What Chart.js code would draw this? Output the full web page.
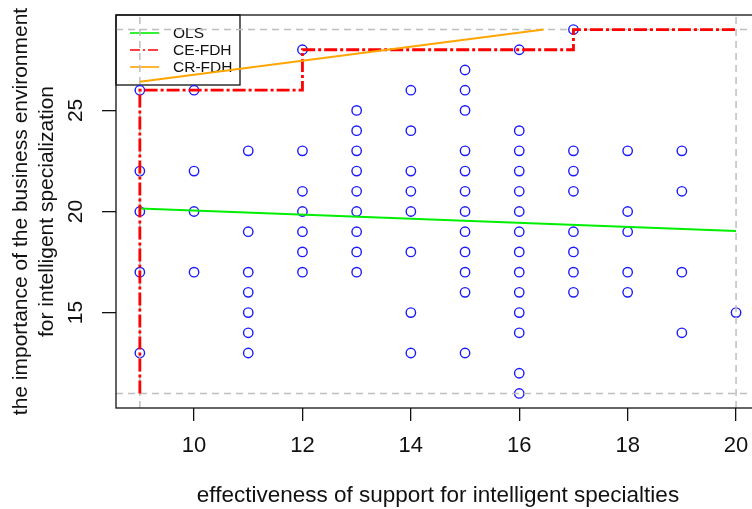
<!DOCTYPE html>
<html>
<head>
<meta charset="utf-8">
<script src="https://cdn.jsdelivr.net/npm/chart.js@4.4.1/dist/chart.umd.min.js"></script>
<style>
  html, body { margin: 0; padding: 0; background: #fff; overflow: hidden; }
  /* plot runs a little past the right edge of the window, like the reference */
  #nca-chart { display: block; width: 766px; height: 509px; }
</style>
</head>
<body>
<canvas id="nca-chart" width="766" height="509"></canvas>
<script>
// =============================================================================
// DATA
// =============================================================================

// support levels (x) and the observed environment scores (y) at each level
const supportLevels = [9, 10, 11, 12, 13, 14, 15, 16, 17, 18, 19, 20];
const envByLevel = [
  [26, 22, 20, 17, 13],
  [26, 22, 20, 17],
  [23, 19, 17, 16, 15, 14, 13],
  [28, 23, 21, 20, 19, 18, 17],
  [25, 24, 23, 22, 21, 20, 19, 18, 17],
  [26, 24, 22, 21, 20, 18, 15, 13],
  [27, 26, 25, 23, 22, 21, 20, 19, 18, 17, 16, 13],
  [28, 24, 23, 22, 21, 20, 19, 18, 17, 16, 15, 14, 12, 11],
  [29, 23, 22, 21, 19, 18, 17, 16],
  [23, 20, 19, 17, 16],
  [23, 21, 17, 14],
  [15]
];

// ceiling / regression lines
const olsX = [9, 20];
const olsY = [20.15, 19.03];
const ceX = [9, 9, 12, 12, 17, 17, 20];
const ceY = [11, 26, 26, 28, 28, 29, 29];
const crX = [9, 16.45];
const crY = [26.42, 29];

// scope limits (gray dashed)
const scopeX = [9, 20];
const scopeY = [11, 29];

const xTicks = [10, 12, 14, 16, 18, 20];
const yTicks = [15, 20, 25];
const xRange = [8.56, 20.44];
const yRange = [10.28, 29.72];

const legendLabels = ['OLS', 'CE-FDH', 'CR-FDH'];

// =============================================================================
// STYLE
// =============================================================================

const FONT = '"Liberation Sans", Arial, sans-serif';
const COLORS = { ols: '#00ee00', ce: '#ff0000', cr: '#ffa500', pts: '#1a1aff', scope: '#bebebe', ink: '#111' };

const toXY = (xs, ys) => xs.map((x, i) => ({ x: x, y: ys[i] }));

const points = [];
supportLevels.forEach((x, i) => envByLevel[i].forEach(y => points.push({ x: x, y: y })));

const scopeLines = [
  ...scopeX.map(x => [{ x: x, y: yRange[0] }, { x: x, y: yRange[1] }]),
  ...scopeY.map(y => [{ x: xRange[0], y: y }, { x: xRange[1], y: y }])
];

const legendStyles = [
  { color: COLORS.ols, width: 1.6, dash: [] },
  { color: COLORS.ce, width: 1.6, dash: [10, 3, 2, 3] },
  { color: COLORS.cr, width: 1.6, dash: [] }
];

// =============================================================================
// PLUGIN: legend box, frame, rotated y tick labels
// =============================================================================

const plotFrame = {
  id: 'plotFrame',
  beforeDatasetsDraw(chart) {
    const { ctx, chartArea: a } = chart;
    ctx.save();
    ctx.strokeStyle = COLORS.ink;
    ctx.lineWidth = 1.3;
    ctx.strokeRect(a.left, a.top, 124, 70);
    ctx.font = '15.5px ' + FONT;
    ctx.textBaseline = 'middle';
    ctx.fillStyle = COLORS.ink;
    legendLabels.forEach((label, i) => {
      const st = legendStyles[i];
      const y = a.top + 18 + i * 17;
      ctx.beginPath();
      ctx.strokeStyle = st.color;
      ctx.lineWidth = st.width;
      ctx.setLineDash(st.dash);
      ctx.moveTo(a.left + 14, y);
      ctx.lineTo(a.left + 43, y);
      ctx.stroke();
      ctx.setLineDash([]);
      ctx.fillText(label, a.left + 57, y + 1);
    });
    ctx.restore();
  },
  afterDraw(chart) {
    const { ctx, chartArea: a } = chart;
    const ys = chart.scales.y;
    ctx.save();
    ctx.strokeStyle = COLORS.ink;
    ctx.lineWidth = 1.3;
    ctx.strokeRect(a.left, a.top, a.right - a.left, a.bottom - a.top);
    ctx.font = '21px ' + FONT;
    ctx.fillStyle = COLORS.ink;
    ctx.textAlign = 'center';
    ctx.textBaseline = 'alphabetic';
    yTicks.forEach(v => {
      ctx.save();
      ctx.translate(a.left - 34, ys.getPixelForValue(v));
      ctx.rotate(-Math.PI / 2);
      ctx.fillText(String(v), 0, 0);
      ctx.restore();
    });
    ctx.restore();
  }
};

// =============================================================================
// CHART
// =============================================================================

const lineSet = (data, color, width, dash, order) => ({
  data: data,
  showLine: true,
  borderColor: color,
  borderWidth: width,
  borderDash: dash,
  pointRadius: 0,
  fill: false,
  order: order
});

const ctx = document.getElementById('nca-chart').getContext('2d');
new Chart(ctx, {
  type: 'scatter',
  data: {
    datasets: [
      lineSet(toXY(crX, crY), COLORS.cr, 2, [], 1),
      lineSet(toXY(ceX, ceY), COLORS.ce, 2.8, [13, 3, 3, 3], 2),
      lineSet(toXY(olsX, olsY), COLORS.ols, 2, [], 3),
      ...scopeLines.map(d => lineSet(d, COLORS.scope, 1.5, [7, 5], 4)),
      {
        data: points,
        pointStyle: 'circle',
        pointRadius: 4.7,
        pointBorderWidth: 1.4,
        borderColor: COLORS.pts,
        backgroundColor: 'rgba(0,0,0,0)',
        order: 5
      }
    ]
  },
  options: {
    responsive: false,
    maintainAspectRatio: false,
    devicePixelRatio: 1,
    animation: false,
    layout: { padding: { left: 0, top: 15, right: 0, bottom: 0 } },
    plugins: {
      legend: { display: false },
      tooltip: { enabled: false }
    },
    scales: {
      x: {
        type: 'linear',
        min: xRange[0],
        max: xRange[1],
        afterBuildTicks: (scale) => { scale.ticks = xTicks.map(v => ({ value: v })); },
        afterFit: (scale) => { scale.height = 101; },
        border: { display: false },
        grid: { drawOnChartArea: false, drawTicks: true, tickLength: 13, color: COLORS.ink, lineWidth: 1.3 },
        ticks: { autoSkip: false, maxRotation: 0, padding: 12, color: COLORS.ink, font: { family: FONT, size: 22, lineHeight: 1.2 } },
        title: {
          display: true,
          text: 'effectiveness of support for intelligent specialties',
          color: COLORS.ink,
          font: { family: FONT, size: 22.5, lineHeight: 1.18 },
          padding: { top: 0, bottom: 0 }
        }
      },
      y: {
        type: 'linear',
        min: yRange[0],
        max: yRange[1],
        afterBuildTicks: (scale) => { scale.ticks = yTicks.map(v => ({ value: v })); },
        afterFit: (scale) => { scale.width = 116; },
        border: { display: false },
        grid: { drawOnChartArea: false, drawTicks: true, tickLength: 14, color: COLORS.ink, lineWidth: 1.3 },
        ticks: { display: false },
        title: {
          display: true,
          text: ['the importance of the business environment', 'for intelligent specialization'],
          color: COLORS.ink,
          font: { family: FONT, size: 21, lineHeight: 1.24 },
          padding: { top: 8, bottom: 0 }
        }
      }
    }
  },
  plugins: [plotFrame]
});
</script>
</body>
</html>
